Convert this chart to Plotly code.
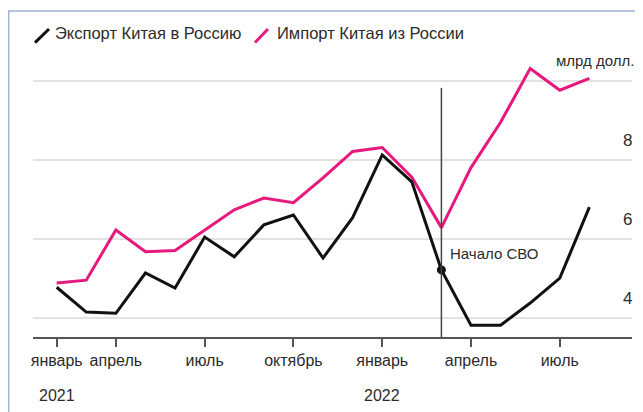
import plotly.graph_objects as go

# ---- data ----
months = ["янв 2021", "фев 2021", "мар 2021", "апр 2021", "май 2021", "июн 2021",
          "июл 2021", "авг 2021", "сен 2021", "окт 2021", "ноя 2021", "дек 2021",
          "янв 2022", "фев 2022", "мар 2022", "апр 2022", "май 2022", "июн 2022",
          "июл 2022"]
export_to_russia = [4.77, 4.14, 4.11, 5.13, 4.75, 6.04, 5.54, 6.35, 6.60, 5.51,
                    6.53, 8.12, 7.44, 5.21, 3.81, 3.81, 4.37, 5.00, 6.80]
import_from_russia = [4.88, 4.95, 6.22, 5.67, 5.70, 6.22, 6.73, 7.03, 6.91, 7.54,
                      8.21, 8.31, 7.56, 6.28, 7.80, 8.95, 10.31, 9.76, 10.06]
tick_index = [0, 2, 5, 8, 11, 14, 17]
tick_labels = ["январь", "апрель", "июль", "октябрь", "январь", "апрель", "июль"]
year_index = [0, 11]
year_labels = ["2021", "2022"]
y_grid = [4, 6, 8, 10]
y_labels = ["4", "6", "8"]
event_index = 13
event_label = "Начало СВО"
unit_label = "млрд долл."
series_names = ["Экспорт Китая в Россию", "Импорт Китая из России"]

x = list(range(len(months)))

BLACK = "#111111"
PINK = "#E8197D"
TXT = "#2b2b2b"
FONT = "Liberation Sans, Arial, sans-serif"

# page body has an 8px margin: the figure is drawn 8px in from the window edge
OFF = 8
WIN_W, WIN_H = 643, 412
W, H = WIN_W - OFF, WIN_H - OFF
# plot-area geometry in window pixels
AX_L, AX_R, AX_T, AX_B = 33, 632, 61.4, 336.7
L, R, T, B = AX_L - OFF, WIN_W - AX_R, AX_T - OFF, WIN_H - AX_B
PW, PH = W - L - R, H - T - B


def px(xw):
    return (xw - OFF - L) / PW


def py(yw):
    return (H - B - (yw - OFF)) / PH


fig = go.Figure()
fig.add_trace(go.Scatter(x=x, y=import_from_russia, mode="lines",
                         line=dict(color=PINK, width=3), name=series_names[1]))
fig.add_trace(go.Scatter(x=x, y=export_to_russia, mode="lines",
                         line=dict(color=BLACK, width=3), name=series_names[0]))
fig.add_trace(go.Scatter(x=[x[event_index]], y=[export_to_russia[event_index]],
                         mode="markers", marker=dict(color=BLACK, size=9),
                         showlegend=False))

shapes = []
# outer light-blue frame
shapes.append(dict(type="rect", xref="paper", yref="paper",
                   x0=px(8.7), x1=px(700), y0=py(480), y1=py(11.5),
                   line=dict(color="#9fb4d6", width=1.5), layer="below"))
# event vertical line
shapes.append(dict(type="line", xref="x", yref="y",
                   x0=event_index, x1=event_index, y0=3.51, y1=9.82,
                   line=dict(color="#444444", width=1.5)))
# legend icons
shapes.append(dict(type="line", xref="paper", yref="paper",
                   x0=px(35), y0=py(43), x1=px(49), y1=py(29.5),
                   line=dict(color=BLACK, width=3)))
shapes.append(dict(type="line", xref="paper", yref="paper",
                   x0=px(255), y0=py(43), x1=px(268), y1=py(29.5),
                   line=dict(color=PINK, width=3)))

annotations = []
annotations.append(dict(xref="paper", yref="paper", x=px(53), y=py(33.5),
                        text=series_names[0], showarrow=False, xanchor="left",
                        yanchor="middle", font=dict(size=16.5, color=TXT, family=FONT)))
annotations.append(dict(xref="paper", yref="paper", x=px(275), y=py(33.5),
                        text=series_names[1], showarrow=False, xanchor="left",
                        yanchor="middle", font=dict(size=16.5, color=TXT, family=FONT)))
for v, lab in zip([4, 6, 8], y_labels):
    annotations.append(dict(xref="paper", yref="y", x=1, y=v, text=lab,
                            showarrow=False, xanchor="right", yanchor="middle",
                            xshift=2, yshift=19,
                            font=dict(size=17, color=TXT, family=FONT)))
annotations.append(dict(xref="paper", yref="y", x=1, y=10, text=unit_label,
                        showarrow=False, xanchor="right", yanchor="middle",
                        xshift=4, yshift=20,
                        font=dict(size=15, color=TXT, family=FONT)))
annotations.append(dict(xref="x", yref="y", x=event_index,
                        y=export_to_russia[event_index], text=event_label,
                        showarrow=False, xanchor="left", yanchor="middle",
                        xshift=7, yshift=16,
                        font=dict(size=15, color=TXT, family=FONT)))
for xi, lab in zip(year_index, year_labels):
    annotations.append(dict(xref="x", yref="paper", x=xi, y=py(395), text=lab,
                            showarrow=False, xanchor="center", yanchor="middle",
                            font=dict(size=16, color=TXT, family=FONT)))

fig.update_layout(
    width=W, height=H,
    margin=dict(l=L, r=R, t=T, b=B, pad=0),
    paper_bgcolor="white", plot_bgcolor="white",
    showlegend=False,
    shapes=shapes, annotations=annotations,
    xaxis=dict(range=[-0.8, 19.44], showgrid=False, zeroline=False,
               showline=True, linecolor="#555555", linewidth=2,
               ticks="outside", ticklen=8, tickwidth=1.5, tickcolor="#555555",
               tickvals=tick_index, ticktext=tick_labels,
               tickfont=dict(size=16, color=TXT, family=FONT)),
    yaxis=dict(range=[3.51, 10.5], showgrid=True, gridcolor="#e2e2e2",
               gridwidth=2, zeroline=False, showline=False,
               tickvals=y_grid, showticklabels=False, ticks=""),
)

fig.write_html("out.html")
